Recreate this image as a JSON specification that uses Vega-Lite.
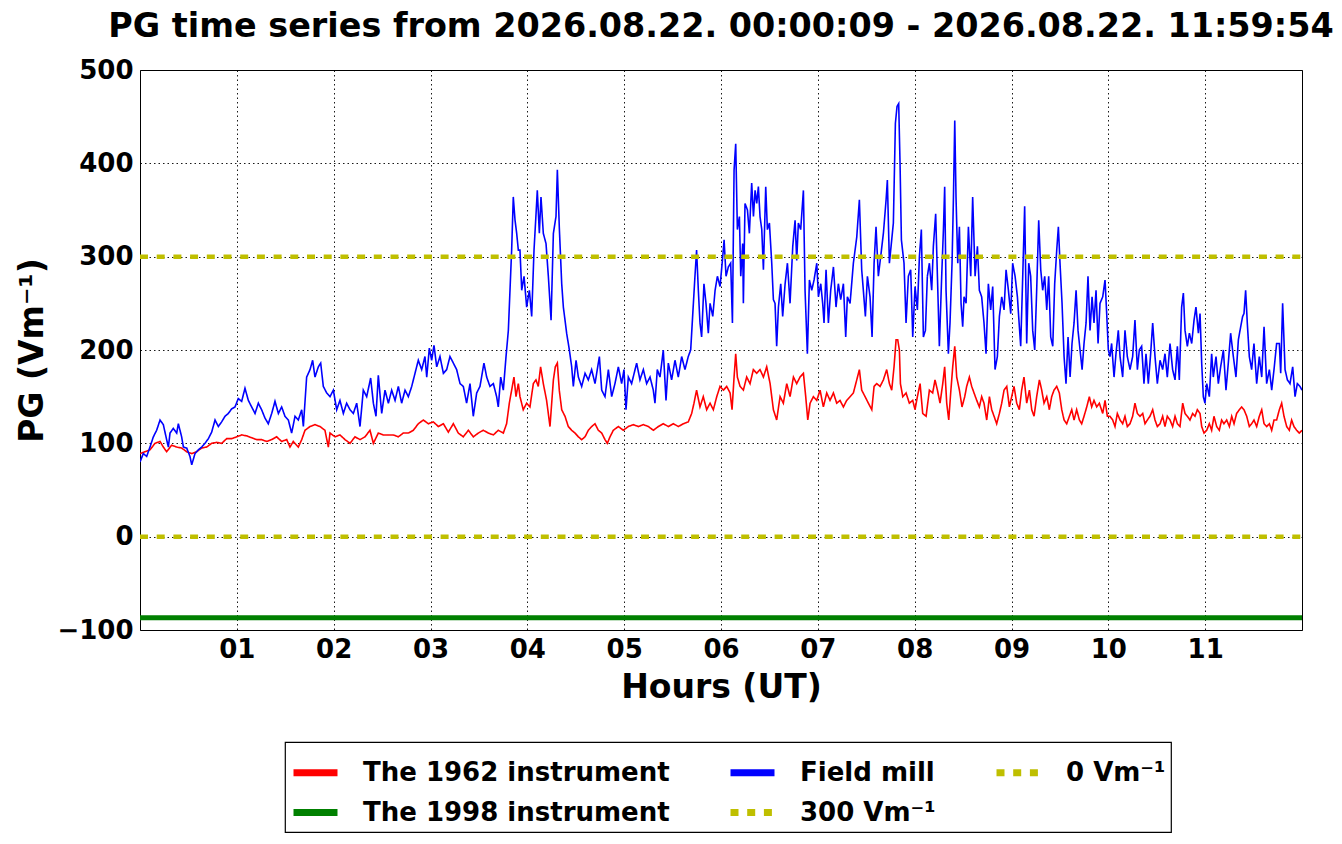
{
  "$schema": "https://vega.github.io/schema/vega-lite/v6.json",
  "width": 1162,
  "height": 560,
  "autosize": "none",
  "padding": {"left": 140, "top": 70, "right": 40, "bottom": 214},
  "background": "white",
  "title": {
    "text": "PG time series from 2026.08.22. 00:00:09 - 2026.08.22. 11:59:54",
    "fontSize": 33.4,
    "fontWeight": "bold",
    "color": "black",
    "anchor": "middle",
    "frame": "group",
    "baseline": "alphabetic",
    "offset": -13
  },
  "data": {
    "values": [
      {"series": "The 1962 instrument", "hour": 0.000, "pg": 89},
      {"series": "The 1962 instrument", "hour": 0.052, "pg": 91},
      {"series": "The 1962 instrument", "hour": 0.103, "pg": 93},
      {"series": "The 1962 instrument", "hour": 0.155, "pg": 100},
      {"series": "The 1962 instrument", "hour": 0.207, "pg": 102},
      {"series": "The 1962 instrument", "hour": 0.241, "pg": 96},
      {"series": "The 1962 instrument", "hour": 0.275, "pg": 91},
      {"series": "The 1962 instrument", "hour": 0.327, "pg": 98},
      {"series": "The 1962 instrument", "hour": 0.379, "pg": 96},
      {"series": "The 1962 instrument", "hour": 0.430, "pg": 95},
      {"series": "The 1962 instrument", "hour": 0.482, "pg": 91},
      {"series": "The 1962 instrument", "hour": 0.534, "pg": 89},
      {"series": "The 1962 instrument", "hour": 0.585, "pg": 91},
      {"series": "The 1962 instrument", "hour": 0.637, "pg": 95},
      {"series": "The 1962 instrument", "hour": 0.688, "pg": 96},
      {"series": "The 1962 instrument", "hour": 0.740, "pg": 100},
      {"series": "The 1962 instrument", "hour": 0.792, "pg": 101},
      {"series": "The 1962 instrument", "hour": 0.843, "pg": 100},
      {"series": "The 1962 instrument", "hour": 0.895, "pg": 105},
      {"series": "The 1962 instrument", "hour": 0.947, "pg": 105},
      {"series": "The 1962 instrument", "hour": 0.998, "pg": 107},
      {"series": "The 1962 instrument", "hour": 1.050, "pg": 109},
      {"series": "The 1962 instrument", "hour": 1.102, "pg": 108},
      {"series": "The 1962 instrument", "hour": 1.153, "pg": 106},
      {"series": "The 1962 instrument", "hour": 1.205, "pg": 104},
      {"series": "The 1962 instrument", "hour": 1.256, "pg": 104},
      {"series": "The 1962 instrument", "hour": 1.308, "pg": 102},
      {"series": "The 1962 instrument", "hour": 1.360, "pg": 104},
      {"series": "The 1962 instrument", "hour": 1.411, "pg": 107},
      {"series": "The 1962 instrument", "hour": 1.463, "pg": 102},
      {"series": "The 1962 instrument", "hour": 1.515, "pg": 104},
      {"series": "The 1962 instrument", "hour": 1.549, "pg": 96},
      {"series": "The 1962 instrument", "hour": 1.583, "pg": 102},
      {"series": "The 1962 instrument", "hour": 1.635, "pg": 96},
      {"series": "The 1962 instrument", "hour": 1.670, "pg": 104},
      {"series": "The 1962 instrument", "hour": 1.704, "pg": 114},
      {"series": "The 1962 instrument", "hour": 1.756, "pg": 118},
      {"series": "The 1962 instrument", "hour": 1.807, "pg": 120},
      {"series": "The 1962 instrument", "hour": 1.859, "pg": 118},
      {"series": "The 1962 instrument", "hour": 1.910, "pg": 114},
      {"series": "The 1962 instrument", "hour": 1.945, "pg": 96},
      {"series": "The 1962 instrument", "hour": 1.962, "pg": 111},
      {"series": "The 1962 instrument", "hour": 2.014, "pg": 107},
      {"series": "The 1962 instrument", "hour": 2.065, "pg": 109},
      {"series": "The 1962 instrument", "hour": 2.117, "pg": 104},
      {"series": "The 1962 instrument", "hour": 2.169, "pg": 100},
      {"series": "The 1962 instrument", "hour": 2.220, "pg": 107},
      {"series": "The 1962 instrument", "hour": 2.272, "pg": 104},
      {"series": "The 1962 instrument", "hour": 2.324, "pg": 107},
      {"series": "The 1962 instrument", "hour": 2.375, "pg": 114},
      {"series": "The 1962 instrument", "hour": 2.410, "pg": 100},
      {"series": "The 1962 instrument", "hour": 2.461, "pg": 111},
      {"series": "The 1962 instrument", "hour": 2.513, "pg": 109},
      {"series": "The 1962 instrument", "hour": 2.565, "pg": 109},
      {"series": "The 1962 instrument", "hour": 2.616, "pg": 109},
      {"series": "The 1962 instrument", "hour": 2.668, "pg": 107},
      {"series": "The 1962 instrument", "hour": 2.719, "pg": 111},
      {"series": "The 1962 instrument", "hour": 2.771, "pg": 111},
      {"series": "The 1962 instrument", "hour": 2.823, "pg": 114},
      {"series": "The 1962 instrument", "hour": 2.874, "pg": 121},
      {"series": "The 1962 instrument", "hour": 2.926, "pg": 125},
      {"series": "The 1962 instrument", "hour": 2.978, "pg": 121},
      {"series": "The 1962 instrument", "hour": 3.029, "pg": 123},
      {"series": "The 1962 instrument", "hour": 3.081, "pg": 118},
      {"series": "The 1962 instrument", "hour": 3.133, "pg": 121},
      {"series": "The 1962 instrument", "hour": 3.184, "pg": 112},
      {"series": "The 1962 instrument", "hour": 3.236, "pg": 121},
      {"series": "The 1962 instrument", "hour": 3.287, "pg": 111},
      {"series": "The 1962 instrument", "hour": 3.339, "pg": 107},
      {"series": "The 1962 instrument", "hour": 3.391, "pg": 114},
      {"series": "The 1962 instrument", "hour": 3.442, "pg": 107},
      {"series": "The 1962 instrument", "hour": 3.494, "pg": 111},
      {"series": "The 1962 instrument", "hour": 3.545, "pg": 114},
      {"series": "The 1962 instrument", "hour": 3.597, "pg": 111},
      {"series": "The 1962 instrument", "hour": 3.649, "pg": 109},
      {"series": "The 1962 instrument", "hour": 3.700, "pg": 114},
      {"series": "The 1962 instrument", "hour": 3.752, "pg": 111},
      {"series": "The 1962 instrument", "hour": 3.786, "pg": 121},
      {"series": "The 1962 instrument", "hour": 3.814, "pg": 143},
      {"series": "The 1962 instrument", "hour": 3.838, "pg": 157},
      {"series": "The 1962 instrument", "hour": 3.862, "pg": 171},
      {"series": "The 1962 instrument", "hour": 3.883, "pg": 150},
      {"series": "The 1962 instrument", "hour": 3.907, "pg": 164},
      {"series": "The 1962 instrument", "hour": 3.924, "pg": 150},
      {"series": "The 1962 instrument", "hour": 3.958, "pg": 136},
      {"series": "The 1962 instrument", "hour": 3.993, "pg": 143},
      {"series": "The 1962 instrument", "hour": 4.027, "pg": 139},
      {"series": "The 1962 instrument", "hour": 4.062, "pg": 164},
      {"series": "The 1962 instrument", "hour": 4.089, "pg": 168},
      {"series": "The 1962 instrument", "hour": 4.113, "pg": 161},
      {"series": "The 1962 instrument", "hour": 4.137, "pg": 182},
      {"series": "The 1962 instrument", "hour": 4.165, "pg": 164},
      {"series": "The 1962 instrument", "hour": 4.199, "pg": 146},
      {"series": "The 1962 instrument", "hour": 4.234, "pg": 118},
      {"series": "The 1962 instrument", "hour": 4.269, "pg": 168},
      {"series": "The 1962 instrument", "hour": 4.289, "pg": 182},
      {"series": "The 1962 instrument", "hour": 4.310, "pg": 186},
      {"series": "The 1962 instrument", "hour": 4.330, "pg": 157},
      {"series": "The 1962 instrument", "hour": 4.355, "pg": 136},
      {"series": "The 1962 instrument", "hour": 4.389, "pg": 129},
      {"series": "The 1962 instrument", "hour": 4.423, "pg": 118},
      {"series": "The 1962 instrument", "hour": 4.458, "pg": 114},
      {"series": "The 1962 instrument", "hour": 4.492, "pg": 111},
      {"series": "The 1962 instrument", "hour": 4.527, "pg": 107},
      {"series": "The 1962 instrument", "hour": 4.561, "pg": 104},
      {"series": "The 1962 instrument", "hour": 4.596, "pg": 107},
      {"series": "The 1962 instrument", "hour": 4.630, "pg": 114},
      {"series": "The 1962 instrument", "hour": 4.664, "pg": 118},
      {"series": "The 1962 instrument", "hour": 4.699, "pg": 121},
      {"series": "The 1962 instrument", "hour": 4.733, "pg": 114},
      {"series": "The 1962 instrument", "hour": 4.768, "pg": 111},
      {"series": "The 1962 instrument", "hour": 4.802, "pg": 104},
      {"series": "The 1962 instrument", "hour": 4.826, "pg": 100},
      {"series": "The 1962 instrument", "hour": 4.854, "pg": 107},
      {"series": "The 1962 instrument", "hour": 4.888, "pg": 114},
      {"series": "The 1962 instrument", "hour": 4.940, "pg": 118},
      {"series": "The 1962 instrument", "hour": 4.991, "pg": 114},
      {"series": "The 1962 instrument", "hour": 5.043, "pg": 118},
      {"series": "The 1962 instrument", "hour": 5.095, "pg": 120},
      {"series": "The 1962 instrument", "hour": 5.146, "pg": 118},
      {"series": "The 1962 instrument", "hour": 5.198, "pg": 120},
      {"series": "The 1962 instrument", "hour": 5.250, "pg": 118},
      {"series": "The 1962 instrument", "hour": 5.301, "pg": 114},
      {"series": "The 1962 instrument", "hour": 5.353, "pg": 118},
      {"series": "The 1962 instrument", "hour": 5.404, "pg": 121},
      {"series": "The 1962 instrument", "hour": 5.456, "pg": 118},
      {"series": "The 1962 instrument", "hour": 5.508, "pg": 121},
      {"series": "The 1962 instrument", "hour": 5.559, "pg": 118},
      {"series": "The 1962 instrument", "hour": 5.611, "pg": 121},
      {"series": "The 1962 instrument", "hour": 5.662, "pg": 123},
      {"series": "The 1962 instrument", "hour": 5.697, "pg": 132},
      {"series": "The 1962 instrument", "hour": 5.721, "pg": 143},
      {"series": "The 1962 instrument", "hour": 5.748, "pg": 157},
      {"series": "The 1962 instrument", "hour": 5.783, "pg": 139},
      {"series": "The 1962 instrument", "hour": 5.817, "pg": 150},
      {"series": "The 1962 instrument", "hour": 5.852, "pg": 136},
      {"series": "The 1962 instrument", "hour": 5.887, "pg": 143},
      {"series": "The 1962 instrument", "hour": 5.921, "pg": 136},
      {"series": "The 1962 instrument", "hour": 5.956, "pg": 150},
      {"series": "The 1962 instrument", "hour": 5.990, "pg": 161},
      {"series": "The 1962 instrument", "hour": 6.025, "pg": 157},
      {"series": "The 1962 instrument", "hour": 6.059, "pg": 161},
      {"series": "The 1962 instrument", "hour": 6.094, "pg": 154},
      {"series": "The 1962 instrument", "hour": 6.114, "pg": 136},
      {"series": "The 1962 instrument", "hour": 6.135, "pg": 171},
      {"series": "The 1962 instrument", "hour": 6.152, "pg": 196},
      {"series": "The 1962 instrument", "hour": 6.169, "pg": 171},
      {"series": "The 1962 instrument", "hour": 6.197, "pg": 161},
      {"series": "The 1962 instrument", "hour": 6.231, "pg": 157},
      {"series": "The 1962 instrument", "hour": 6.265, "pg": 171},
      {"series": "The 1962 instrument", "hour": 6.300, "pg": 164},
      {"series": "The 1962 instrument", "hour": 6.334, "pg": 179},
      {"series": "The 1962 instrument", "hour": 6.369, "pg": 175},
      {"series": "The 1962 instrument", "hour": 6.403, "pg": 179},
      {"series": "The 1962 instrument", "hour": 6.438, "pg": 171},
      {"series": "The 1962 instrument", "hour": 6.472, "pg": 182},
      {"series": "The 1962 instrument", "hour": 6.507, "pg": 164},
      {"series": "The 1962 instrument", "hour": 6.541, "pg": 136},
      {"series": "The 1962 instrument", "hour": 6.575, "pg": 125},
      {"series": "The 1962 instrument", "hour": 6.610, "pg": 150},
      {"series": "The 1962 instrument", "hour": 6.644, "pg": 143},
      {"series": "The 1962 instrument", "hour": 6.679, "pg": 164},
      {"series": "The 1962 instrument", "hour": 6.713, "pg": 150},
      {"series": "The 1962 instrument", "hour": 6.748, "pg": 171},
      {"series": "The 1962 instrument", "hour": 6.782, "pg": 164},
      {"series": "The 1962 instrument", "hour": 6.816, "pg": 171},
      {"series": "The 1962 instrument", "hour": 6.851, "pg": 175},
      {"series": "The 1962 instrument", "hour": 6.875, "pg": 150},
      {"series": "The 1962 instrument", "hour": 6.896, "pg": 125},
      {"series": "The 1962 instrument", "hour": 6.920, "pg": 143},
      {"series": "The 1962 instrument", "hour": 6.954, "pg": 150},
      {"series": "The 1962 instrument", "hour": 6.989, "pg": 146},
      {"series": "The 1962 instrument", "hour": 7.023, "pg": 157},
      {"series": "The 1962 instrument", "hour": 7.057, "pg": 139},
      {"series": "The 1962 instrument", "hour": 7.092, "pg": 154},
      {"series": "The 1962 instrument", "hour": 7.126, "pg": 146},
      {"series": "The 1962 instrument", "hour": 7.161, "pg": 154},
      {"series": "The 1962 instrument", "hour": 7.195, "pg": 143},
      {"series": "The 1962 instrument", "hour": 7.229, "pg": 146},
      {"series": "The 1962 instrument", "hour": 7.264, "pg": 139},
      {"series": "The 1962 instrument", "hour": 7.298, "pg": 146},
      {"series": "The 1962 instrument", "hour": 7.333, "pg": 150},
      {"series": "The 1962 instrument", "hour": 7.367, "pg": 154},
      {"series": "The 1962 instrument", "hour": 7.402, "pg": 168},
      {"series": "The 1962 instrument", "hour": 7.429, "pg": 179},
      {"series": "The 1962 instrument", "hour": 7.453, "pg": 157},
      {"series": "The 1962 instrument", "hour": 7.488, "pg": 150},
      {"series": "The 1962 instrument", "hour": 7.522, "pg": 143},
      {"series": "The 1962 instrument", "hour": 7.557, "pg": 136},
      {"series": "The 1962 instrument", "hour": 7.581, "pg": 161},
      {"series": "The 1962 instrument", "hour": 7.608, "pg": 164},
      {"series": "The 1962 instrument", "hour": 7.643, "pg": 161},
      {"series": "The 1962 instrument", "hour": 7.677, "pg": 168},
      {"series": "The 1962 instrument", "hour": 7.711, "pg": 179},
      {"series": "The 1962 instrument", "hour": 7.739, "pg": 164},
      {"series": "The 1962 instrument", "hour": 7.763, "pg": 157},
      {"series": "The 1962 instrument", "hour": 7.787, "pg": 182},
      {"series": "The 1962 instrument", "hour": 7.808, "pg": 211},
      {"series": "The 1962 instrument", "hour": 7.825, "pg": 211},
      {"series": "The 1962 instrument", "hour": 7.842, "pg": 200},
      {"series": "The 1962 instrument", "hour": 7.853, "pg": 164},
      {"series": "The 1962 instrument", "hour": 7.877, "pg": 150},
      {"series": "The 1962 instrument", "hour": 7.911, "pg": 154},
      {"series": "The 1962 instrument", "hour": 7.945, "pg": 143},
      {"series": "The 1962 instrument", "hour": 7.980, "pg": 146},
      {"series": "The 1962 instrument", "hour": 8.004, "pg": 136},
      {"series": "The 1962 instrument", "hour": 8.028, "pg": 150},
      {"series": "The 1962 instrument", "hour": 8.056, "pg": 164},
      {"series": "The 1962 instrument", "hour": 8.083, "pg": 132},
      {"series": "The 1962 instrument", "hour": 8.118, "pg": 129},
      {"series": "The 1962 instrument", "hour": 8.152, "pg": 157},
      {"series": "The 1962 instrument", "hour": 8.186, "pg": 154},
      {"series": "The 1962 instrument", "hour": 8.210, "pg": 168},
      {"series": "The 1962 instrument", "hour": 8.235, "pg": 157},
      {"series": "The 1962 instrument", "hour": 8.262, "pg": 143},
      {"series": "The 1962 instrument", "hour": 8.290, "pg": 164},
      {"series": "The 1962 instrument", "hour": 8.310, "pg": 182},
      {"series": "The 1962 instrument", "hour": 8.331, "pg": 143},
      {"series": "The 1962 instrument", "hour": 8.352, "pg": 125},
      {"series": "The 1962 instrument", "hour": 8.372, "pg": 154},
      {"series": "The 1962 instrument", "hour": 8.393, "pg": 182},
      {"series": "The 1962 instrument", "hour": 8.414, "pg": 204},
      {"series": "The 1962 instrument", "hour": 8.434, "pg": 171},
      {"series": "The 1962 instrument", "hour": 8.462, "pg": 157},
      {"series": "The 1962 instrument", "hour": 8.489, "pg": 139},
      {"series": "The 1962 instrument", "hour": 8.517, "pg": 150},
      {"series": "The 1962 instrument", "hour": 8.537, "pg": 161},
      {"series": "The 1962 instrument", "hour": 8.565, "pg": 171},
      {"series": "The 1962 instrument", "hour": 8.589, "pg": 161},
      {"series": "The 1962 instrument", "hour": 8.613, "pg": 154},
      {"series": "The 1962 instrument", "hour": 8.641, "pg": 146},
      {"series": "The 1962 instrument", "hour": 8.668, "pg": 139},
      {"series": "The 1962 instrument", "hour": 8.692, "pg": 150},
      {"series": "The 1962 instrument", "hour": 8.716, "pg": 143},
      {"series": "The 1962 instrument", "hour": 8.744, "pg": 125},
      {"series": "The 1962 instrument", "hour": 8.772, "pg": 150},
      {"series": "The 1962 instrument", "hour": 8.796, "pg": 136},
      {"series": "The 1962 instrument", "hour": 8.820, "pg": 129},
      {"series": "The 1962 instrument", "hour": 8.847, "pg": 121},
      {"series": "The 1962 instrument", "hour": 8.875, "pg": 132},
      {"series": "The 1962 instrument", "hour": 8.899, "pg": 143},
      {"series": "The 1962 instrument", "hour": 8.923, "pg": 157},
      {"series": "The 1962 instrument", "hour": 8.951, "pg": 161},
      {"series": "The 1962 instrument", "hour": 8.978, "pg": 139},
      {"series": "The 1962 instrument", "hour": 9.002, "pg": 150},
      {"series": "The 1962 instrument", "hour": 9.026, "pg": 161},
      {"series": "The 1962 instrument", "hour": 9.054, "pg": 143},
      {"series": "The 1962 instrument", "hour": 9.081, "pg": 136},
      {"series": "The 1962 instrument", "hour": 9.105, "pg": 157},
      {"series": "The 1962 instrument", "hour": 9.129, "pg": 171},
      {"series": "The 1962 instrument", "hour": 9.157, "pg": 143},
      {"series": "The 1962 instrument", "hour": 9.185, "pg": 157},
      {"series": "The 1962 instrument", "hour": 9.209, "pg": 136},
      {"series": "The 1962 instrument", "hour": 9.233, "pg": 129},
      {"series": "The 1962 instrument", "hour": 9.260, "pg": 150},
      {"series": "The 1962 instrument", "hour": 9.288, "pg": 168},
      {"series": "The 1962 instrument", "hour": 9.312, "pg": 157},
      {"series": "The 1962 instrument", "hour": 9.336, "pg": 143},
      {"series": "The 1962 instrument", "hour": 9.364, "pg": 150},
      {"series": "The 1962 instrument", "hour": 9.391, "pg": 136},
      {"series": "The 1962 instrument", "hour": 9.415, "pg": 150},
      {"series": "The 1962 instrument", "hour": 9.439, "pg": 157},
      {"series": "The 1962 instrument", "hour": 9.467, "pg": 161},
      {"series": "The 1962 instrument", "hour": 9.494, "pg": 154},
      {"series": "The 1962 instrument", "hour": 9.519, "pg": 136},
      {"series": "The 1962 instrument", "hour": 9.543, "pg": 125},
      {"series": "The 1962 instrument", "hour": 9.570, "pg": 121},
      {"series": "The 1962 instrument", "hour": 9.598, "pg": 129},
      {"series": "The 1962 instrument", "hour": 9.622, "pg": 136},
      {"series": "The 1962 instrument", "hour": 9.646, "pg": 125},
      {"series": "The 1962 instrument", "hour": 9.673, "pg": 136},
      {"series": "The 1962 instrument", "hour": 9.701, "pg": 125},
      {"series": "The 1962 instrument", "hour": 9.725, "pg": 121},
      {"series": "The 1962 instrument", "hour": 9.749, "pg": 129},
      {"series": "The 1962 instrument", "hour": 9.777, "pg": 139},
      {"series": "The 1962 instrument", "hour": 9.804, "pg": 150},
      {"series": "The 1962 instrument", "hour": 9.828, "pg": 139},
      {"series": "The 1962 instrument", "hour": 9.852, "pg": 146},
      {"series": "The 1962 instrument", "hour": 9.880, "pg": 139},
      {"series": "The 1962 instrument", "hour": 9.907, "pg": 143},
      {"series": "The 1962 instrument", "hour": 9.942, "pg": 132},
      {"series": "The 1962 instrument", "hour": 9.966, "pg": 146},
      {"series": "The 1962 instrument", "hour": 9.990, "pg": 129},
      {"series": "The 1962 instrument", "hour": 10.017, "pg": 129},
      {"series": "The 1962 instrument", "hour": 10.045, "pg": 125},
      {"series": "The 1962 instrument", "hour": 10.069, "pg": 118},
      {"series": "The 1962 instrument", "hour": 10.093, "pg": 132},
      {"series": "The 1962 instrument", "hour": 10.121, "pg": 125},
      {"series": "The 1962 instrument", "hour": 10.148, "pg": 121},
      {"series": "The 1962 instrument", "hour": 10.172, "pg": 129},
      {"series": "The 1962 instrument", "hour": 10.196, "pg": 118},
      {"series": "The 1962 instrument", "hour": 10.224, "pg": 121},
      {"series": "The 1962 instrument", "hour": 10.251, "pg": 129},
      {"series": "The 1962 instrument", "hour": 10.275, "pg": 143},
      {"series": "The 1962 instrument", "hour": 10.300, "pg": 132},
      {"series": "The 1962 instrument", "hour": 10.327, "pg": 129},
      {"series": "The 1962 instrument", "hour": 10.355, "pg": 132},
      {"series": "The 1962 instrument", "hour": 10.379, "pg": 121},
      {"series": "The 1962 instrument", "hour": 10.403, "pg": 125},
      {"series": "The 1962 instrument", "hour": 10.430, "pg": 129},
      {"series": "The 1962 instrument", "hour": 10.458, "pg": 136},
      {"series": "The 1962 instrument", "hour": 10.482, "pg": 125},
      {"series": "The 1962 instrument", "hour": 10.506, "pg": 118},
      {"series": "The 1962 instrument", "hour": 10.534, "pg": 121},
      {"series": "The 1962 instrument", "hour": 10.561, "pg": 129},
      {"series": "The 1962 instrument", "hour": 10.585, "pg": 118},
      {"series": "The 1962 instrument", "hour": 10.609, "pg": 129},
      {"series": "The 1962 instrument", "hour": 10.637, "pg": 125},
      {"series": "The 1962 instrument", "hour": 10.664, "pg": 118},
      {"series": "The 1962 instrument", "hour": 10.689, "pg": 129},
      {"series": "The 1962 instrument", "hour": 10.713, "pg": 121},
      {"series": "The 1962 instrument", "hour": 10.740, "pg": 118},
      {"series": "The 1962 instrument", "hour": 10.768, "pg": 143},
      {"series": "The 1962 instrument", "hour": 10.792, "pg": 132},
      {"series": "The 1962 instrument", "hour": 10.816, "pg": 129},
      {"series": "The 1962 instrument", "hour": 10.843, "pg": 125},
      {"series": "The 1962 instrument", "hour": 10.871, "pg": 132},
      {"series": "The 1962 instrument", "hour": 10.895, "pg": 129},
      {"series": "The 1962 instrument", "hour": 10.919, "pg": 136},
      {"series": "The 1962 instrument", "hour": 10.947, "pg": 132},
      {"series": "The 1962 instrument", "hour": 10.964, "pg": 118},
      {"series": "The 1962 instrument", "hour": 10.988, "pg": 111},
      {"series": "The 1962 instrument", "hour": 11.016, "pg": 114},
      {"series": "The 1962 instrument", "hour": 11.043, "pg": 121},
      {"series": "The 1962 instrument", "hour": 11.067, "pg": 114},
      {"series": "The 1962 instrument", "hour": 11.091, "pg": 129},
      {"series": "The 1962 instrument", "hour": 11.119, "pg": 118},
      {"series": "The 1962 instrument", "hour": 11.146, "pg": 114},
      {"series": "The 1962 instrument", "hour": 11.170, "pg": 125},
      {"series": "The 1962 instrument", "hour": 11.194, "pg": 121},
      {"series": "The 1962 instrument", "hour": 11.222, "pg": 125},
      {"series": "The 1962 instrument", "hour": 11.250, "pg": 118},
      {"series": "The 1962 instrument", "hour": 11.274, "pg": 129},
      {"series": "The 1962 instrument", "hour": 11.298, "pg": 121},
      {"series": "The 1962 instrument", "hour": 11.325, "pg": 132},
      {"series": "The 1962 instrument", "hour": 11.353, "pg": 136},
      {"series": "The 1962 instrument", "hour": 11.377, "pg": 139},
      {"series": "The 1962 instrument", "hour": 11.401, "pg": 136},
      {"series": "The 1962 instrument", "hour": 11.429, "pg": 129},
      {"series": "The 1962 instrument", "hour": 11.456, "pg": 118},
      {"series": "The 1962 instrument", "hour": 11.480, "pg": 121},
      {"series": "The 1962 instrument", "hour": 11.504, "pg": 125},
      {"series": "The 1962 instrument", "hour": 11.532, "pg": 118},
      {"series": "The 1962 instrument", "hour": 11.559, "pg": 129},
      {"series": "The 1962 instrument", "hour": 11.584, "pg": 136},
      {"series": "The 1962 instrument", "hour": 11.608, "pg": 121},
      {"series": "The 1962 instrument", "hour": 11.635, "pg": 118},
      {"series": "The 1962 instrument", "hour": 11.663, "pg": 121},
      {"series": "The 1962 instrument", "hour": 11.687, "pg": 114},
      {"series": "The 1962 instrument", "hour": 11.711, "pg": 125},
      {"series": "The 1962 instrument", "hour": 11.738, "pg": 125},
      {"series": "The 1962 instrument", "hour": 11.766, "pg": 136},
      {"series": "The 1962 instrument", "hour": 11.790, "pg": 143},
      {"series": "The 1962 instrument", "hour": 11.814, "pg": 129},
      {"series": "The 1962 instrument", "hour": 11.842, "pg": 118},
      {"series": "The 1962 instrument", "hour": 11.869, "pg": 114},
      {"series": "The 1962 instrument", "hour": 11.893, "pg": 125},
      {"series": "The 1962 instrument", "hour": 11.917, "pg": 118},
      {"series": "The 1962 instrument", "hour": 11.945, "pg": 114},
      {"series": "The 1962 instrument", "hour": 11.972, "pg": 111},
      {"series": "The 1962 instrument", "hour": 12.000, "pg": 114},

      {"series": "The 1998 instrument", "hour": 0, "pg": -87},
      {"series": "The 1998 instrument", "hour": 12, "pg": -87},

      {"series": "Field mill", "hour": 0.000, "pg": 80},
      {"series": "Field mill", "hour": 0.034, "pg": 89},
      {"series": "Field mill", "hour": 0.069, "pg": 86},
      {"series": "Field mill", "hour": 0.103, "pg": 96},
      {"series": "Field mill", "hour": 0.138, "pg": 107},
      {"series": "Field mill", "hour": 0.172, "pg": 114},
      {"series": "Field mill", "hour": 0.207, "pg": 125},
      {"series": "Field mill", "hour": 0.241, "pg": 120},
      {"series": "Field mill", "hour": 0.275, "pg": 104},
      {"series": "Field mill", "hour": 0.293, "pg": 96},
      {"series": "Field mill", "hour": 0.310, "pg": 111},
      {"series": "Field mill", "hour": 0.344, "pg": 116},
      {"series": "Field mill", "hour": 0.379, "pg": 111},
      {"series": "Field mill", "hour": 0.396, "pg": 121},
      {"series": "Field mill", "hour": 0.430, "pg": 107},
      {"series": "Field mill", "hour": 0.448, "pg": 96},
      {"series": "Field mill", "hour": 0.482, "pg": 95},
      {"series": "Field mill", "hour": 0.516, "pg": 86},
      {"series": "Field mill", "hour": 0.534, "pg": 77},
      {"series": "Field mill", "hour": 0.568, "pg": 89},
      {"series": "Field mill", "hour": 0.602, "pg": 93},
      {"series": "Field mill", "hour": 0.637, "pg": 96},
      {"series": "Field mill", "hour": 0.671, "pg": 100},
      {"series": "Field mill", "hour": 0.706, "pg": 105},
      {"series": "Field mill", "hour": 0.740, "pg": 112},
      {"series": "Field mill", "hour": 0.775, "pg": 125},
      {"series": "Field mill", "hour": 0.809, "pg": 118},
      {"series": "Field mill", "hour": 0.843, "pg": 123},
      {"series": "Field mill", "hour": 0.878, "pg": 129},
      {"series": "Field mill", "hour": 0.912, "pg": 132},
      {"series": "Field mill", "hour": 0.947, "pg": 137},
      {"series": "Field mill", "hour": 0.981, "pg": 139},
      {"series": "Field mill", "hour": 1.015, "pg": 148},
      {"series": "Field mill", "hour": 1.050, "pg": 145},
      {"series": "Field mill", "hour": 1.084, "pg": 159},
      {"series": "Field mill", "hour": 1.119, "pg": 146},
      {"series": "Field mill", "hour": 1.153, "pg": 139},
      {"series": "Field mill", "hour": 1.188, "pg": 132},
      {"series": "Field mill", "hour": 1.222, "pg": 143},
      {"series": "Field mill", "hour": 1.256, "pg": 136},
      {"series": "Field mill", "hour": 1.291, "pg": 127},
      {"series": "Field mill", "hour": 1.325, "pg": 121},
      {"series": "Field mill", "hour": 1.360, "pg": 132},
      {"series": "Field mill", "hour": 1.394, "pg": 145},
      {"series": "Field mill", "hour": 1.429, "pg": 132},
      {"series": "Field mill", "hour": 1.463, "pg": 139},
      {"series": "Field mill", "hour": 1.497, "pg": 129},
      {"series": "Field mill", "hour": 1.532, "pg": 125},
      {"series": "Field mill", "hour": 1.566, "pg": 111},
      {"series": "Field mill", "hour": 1.601, "pg": 129},
      {"series": "Field mill", "hour": 1.635, "pg": 125},
      {"series": "Field mill", "hour": 1.670, "pg": 136},
      {"series": "Field mill", "hour": 1.687, "pg": 118},
      {"series": "Field mill", "hour": 1.721, "pg": 171},
      {"series": "Field mill", "hour": 1.756, "pg": 179},
      {"series": "Field mill", "hour": 1.783, "pg": 189},
      {"series": "Field mill", "hour": 1.807, "pg": 171},
      {"series": "Field mill", "hour": 1.842, "pg": 182},
      {"series": "Field mill", "hour": 1.866, "pg": 186},
      {"series": "Field mill", "hour": 1.893, "pg": 161},
      {"series": "Field mill", "hour": 1.928, "pg": 154},
      {"series": "Field mill", "hour": 1.962, "pg": 150},
      {"series": "Field mill", "hour": 1.997, "pg": 157},
      {"series": "Field mill", "hour": 2.031, "pg": 136},
      {"series": "Field mill", "hour": 2.065, "pg": 146},
      {"series": "Field mill", "hour": 2.100, "pg": 132},
      {"series": "Field mill", "hour": 2.134, "pg": 143},
      {"series": "Field mill", "hour": 2.169, "pg": 136},
      {"series": "Field mill", "hour": 2.203, "pg": 132},
      {"series": "Field mill", "hour": 2.238, "pg": 143},
      {"series": "Field mill", "hour": 2.272, "pg": 118},
      {"series": "Field mill", "hour": 2.306, "pg": 157},
      {"series": "Field mill", "hour": 2.341, "pg": 150},
      {"series": "Field mill", "hour": 2.382, "pg": 170},
      {"series": "Field mill", "hour": 2.410, "pg": 143},
      {"series": "Field mill", "hour": 2.437, "pg": 129},
      {"series": "Field mill", "hour": 2.461, "pg": 173},
      {"series": "Field mill", "hour": 2.496, "pg": 132},
      {"series": "Field mill", "hour": 2.530, "pg": 157},
      {"series": "Field mill", "hour": 2.565, "pg": 143},
      {"series": "Field mill", "hour": 2.599, "pg": 157},
      {"series": "Field mill", "hour": 2.634, "pg": 146},
      {"series": "Field mill", "hour": 2.668, "pg": 161},
      {"series": "Field mill", "hour": 2.702, "pg": 143},
      {"series": "Field mill", "hour": 2.737, "pg": 157},
      {"series": "Field mill", "hour": 2.771, "pg": 150},
      {"series": "Field mill", "hour": 2.806, "pg": 161},
      {"series": "Field mill", "hour": 2.840, "pg": 175},
      {"series": "Field mill", "hour": 2.874, "pg": 189},
      {"series": "Field mill", "hour": 2.909, "pg": 179},
      {"series": "Field mill", "hour": 2.943, "pg": 193},
      {"series": "Field mill", "hour": 2.961, "pg": 171},
      {"series": "Field mill", "hour": 2.988, "pg": 202},
      {"series": "Field mill", "hour": 3.012, "pg": 189},
      {"series": "Field mill", "hour": 3.036, "pg": 205},
      {"series": "Field mill", "hour": 3.064, "pg": 182},
      {"series": "Field mill", "hour": 3.098, "pg": 193},
      {"series": "Field mill", "hour": 3.133, "pg": 175},
      {"series": "Field mill", "hour": 3.167, "pg": 179},
      {"series": "Field mill", "hour": 3.201, "pg": 193},
      {"series": "Field mill", "hour": 3.236, "pg": 186},
      {"series": "Field mill", "hour": 3.270, "pg": 179},
      {"series": "Field mill", "hour": 3.305, "pg": 164},
      {"series": "Field mill", "hour": 3.339, "pg": 161},
      {"series": "Field mill", "hour": 3.373, "pg": 143},
      {"series": "Field mill", "hour": 3.408, "pg": 164},
      {"series": "Field mill", "hour": 3.442, "pg": 129},
      {"series": "Field mill", "hour": 3.477, "pg": 154},
      {"series": "Field mill", "hour": 3.511, "pg": 161},
      {"series": "Field mill", "hour": 3.552, "pg": 186},
      {"series": "Field mill", "hour": 3.580, "pg": 171},
      {"series": "Field mill", "hour": 3.614, "pg": 161},
      {"series": "Field mill", "hour": 3.649, "pg": 164},
      {"series": "Field mill", "hour": 3.683, "pg": 150},
      {"series": "Field mill", "hour": 3.700, "pg": 139},
      {"series": "Field mill", "hour": 3.725, "pg": 171},
      {"series": "Field mill", "hour": 3.752, "pg": 157},
      {"series": "Field mill", "hour": 3.780, "pg": 193},
      {"series": "Field mill", "hour": 3.804, "pg": 221},
      {"series": "Field mill", "hour": 3.821, "pg": 264},
      {"series": "Field mill", "hour": 3.838, "pg": 307},
      {"series": "Field mill", "hour": 3.855, "pg": 364},
      {"series": "Field mill", "hour": 3.873, "pg": 339},
      {"series": "Field mill", "hour": 3.890, "pg": 325},
      {"series": "Field mill", "hour": 3.907, "pg": 307},
      {"series": "Field mill", "hour": 3.924, "pg": 307},
      {"series": "Field mill", "hour": 3.942, "pg": 264},
      {"series": "Field mill", "hour": 3.966, "pg": 279},
      {"series": "Field mill", "hour": 3.993, "pg": 246},
      {"series": "Field mill", "hour": 4.021, "pg": 264},
      {"series": "Field mill", "hour": 4.045, "pg": 236},
      {"series": "Field mill", "hour": 4.069, "pg": 307},
      {"series": "Field mill", "hour": 4.090, "pg": 346},
      {"series": "Field mill", "hour": 4.103, "pg": 371},
      {"series": "Field mill", "hour": 4.124, "pg": 325},
      {"series": "Field mill", "hour": 4.141, "pg": 364},
      {"series": "Field mill", "hour": 4.165, "pg": 325},
      {"series": "Field mill", "hour": 4.193, "pg": 314},
      {"series": "Field mill", "hour": 4.217, "pg": 279},
      {"series": "Field mill", "hour": 4.245, "pg": 232},
      {"series": "Field mill", "hour": 4.269, "pg": 325},
      {"series": "Field mill", "hour": 4.296, "pg": 343},
      {"series": "Field mill", "hour": 4.310, "pg": 393},
      {"series": "Field mill", "hour": 4.330, "pg": 332},
      {"series": "Field mill", "hour": 4.355, "pg": 271},
      {"series": "Field mill", "hour": 4.372, "pg": 246},
      {"series": "Field mill", "hour": 4.406, "pg": 218},
      {"series": "Field mill", "hour": 4.434, "pg": 200},
      {"series": "Field mill", "hour": 4.458, "pg": 182},
      {"series": "Field mill", "hour": 4.475, "pg": 161},
      {"series": "Field mill", "hour": 4.503, "pg": 189},
      {"series": "Field mill", "hour": 4.527, "pg": 171},
      {"series": "Field mill", "hour": 4.561, "pg": 161},
      {"series": "Field mill", "hour": 4.596, "pg": 175},
      {"series": "Field mill", "hour": 4.630, "pg": 168},
      {"series": "Field mill", "hour": 4.664, "pg": 179},
      {"series": "Field mill", "hour": 4.699, "pg": 164},
      {"series": "Field mill", "hour": 4.744, "pg": 193},
      {"series": "Field mill", "hour": 4.768, "pg": 157},
      {"series": "Field mill", "hour": 4.802, "pg": 150},
      {"series": "Field mill", "hour": 4.837, "pg": 179},
      {"series": "Field mill", "hour": 4.871, "pg": 150},
      {"series": "Field mill", "hour": 4.905, "pg": 164},
      {"series": "Field mill", "hour": 4.940, "pg": 182},
      {"series": "Field mill", "hour": 4.974, "pg": 164},
      {"series": "Field mill", "hour": 4.998, "pg": 179},
      {"series": "Field mill", "hour": 5.019, "pg": 136},
      {"series": "Field mill", "hour": 5.043, "pg": 171},
      {"series": "Field mill", "hour": 5.077, "pg": 164},
      {"series": "Field mill", "hour": 5.129, "pg": 186},
      {"series": "Field mill", "hour": 5.163, "pg": 168},
      {"series": "Field mill", "hour": 5.198, "pg": 179},
      {"series": "Field mill", "hour": 5.232, "pg": 164},
      {"series": "Field mill", "hour": 5.267, "pg": 171},
      {"series": "Field mill", "hour": 5.301, "pg": 157},
      {"series": "Field mill", "hour": 5.318, "pg": 143},
      {"series": "Field mill", "hour": 5.342, "pg": 179},
      {"series": "Field mill", "hour": 5.370, "pg": 171},
      {"series": "Field mill", "hour": 5.404, "pg": 200},
      {"series": "Field mill", "hour": 5.432, "pg": 146},
      {"series": "Field mill", "hour": 5.456, "pg": 186},
      {"series": "Field mill", "hour": 5.490, "pg": 168},
      {"series": "Field mill", "hour": 5.525, "pg": 189},
      {"series": "Field mill", "hour": 5.559, "pg": 171},
      {"series": "Field mill", "hour": 5.594, "pg": 193},
      {"series": "Field mill", "hour": 5.628, "pg": 179},
      {"series": "Field mill", "hour": 5.662, "pg": 193},
      {"series": "Field mill", "hour": 5.687, "pg": 200},
      {"series": "Field mill", "hour": 5.707, "pg": 236},
      {"series": "Field mill", "hour": 5.731, "pg": 279},
      {"series": "Field mill", "hour": 5.748, "pg": 307},
      {"series": "Field mill", "hour": 5.766, "pg": 264},
      {"series": "Field mill", "hour": 5.783, "pg": 229},
      {"series": "Field mill", "hour": 5.800, "pg": 214},
      {"series": "Field mill", "hour": 5.824, "pg": 271},
      {"series": "Field mill", "hour": 5.845, "pg": 250},
      {"series": "Field mill", "hour": 5.869, "pg": 218},
      {"series": "Field mill", "hour": 5.887, "pg": 250},
      {"series": "Field mill", "hour": 5.915, "pg": 236},
      {"series": "Field mill", "hour": 5.939, "pg": 264},
      {"series": "Field mill", "hour": 5.963, "pg": 279},
      {"series": "Field mill", "hour": 5.990, "pg": 268},
      {"series": "Field mill", "hour": 6.018, "pg": 300},
      {"series": "Field mill", "hour": 6.032, "pg": 318},
      {"series": "Field mill", "hour": 6.052, "pg": 279},
      {"series": "Field mill", "hour": 6.076, "pg": 289},
      {"series": "Field mill", "hour": 6.100, "pg": 293},
      {"series": "Field mill", "hour": 6.118, "pg": 229},
      {"series": "Field mill", "hour": 6.135, "pg": 393},
      {"series": "Field mill", "hour": 6.152, "pg": 421},
      {"series": "Field mill", "hour": 6.169, "pg": 329},
      {"series": "Field mill", "hour": 6.190, "pg": 343},
      {"series": "Field mill", "hour": 6.204, "pg": 279},
      {"series": "Field mill", "hour": 6.224, "pg": 314},
      {"series": "Field mill", "hour": 6.231, "pg": 250},
      {"series": "Field mill", "hour": 6.248, "pg": 357},
      {"series": "Field mill", "hour": 6.273, "pg": 350},
      {"series": "Field mill", "hour": 6.293, "pg": 325},
      {"series": "Field mill", "hour": 6.317, "pg": 379},
      {"series": "Field mill", "hour": 6.335, "pg": 343},
      {"series": "Field mill", "hour": 6.352, "pg": 371},
      {"series": "Field mill", "hour": 6.369, "pg": 357},
      {"series": "Field mill", "hour": 6.386, "pg": 375},
      {"series": "Field mill", "hour": 6.403, "pg": 343},
      {"series": "Field mill", "hour": 6.421, "pg": 329},
      {"series": "Field mill", "hour": 6.438, "pg": 286},
      {"series": "Field mill", "hour": 6.462, "pg": 375},
      {"series": "Field mill", "hour": 6.479, "pg": 329},
      {"series": "Field mill", "hour": 6.500, "pg": 336},
      {"series": "Field mill", "hour": 6.524, "pg": 293},
      {"series": "Field mill", "hour": 6.541, "pg": 254},
      {"series": "Field mill", "hour": 6.558, "pg": 250},
      {"series": "Field mill", "hour": 6.575, "pg": 204},
      {"series": "Field mill", "hour": 6.593, "pg": 246},
      {"series": "Field mill", "hour": 6.617, "pg": 271},
      {"series": "Field mill", "hour": 6.637, "pg": 236},
      {"series": "Field mill", "hour": 6.662, "pg": 271},
      {"series": "Field mill", "hour": 6.686, "pg": 293},
      {"series": "Field mill", "hour": 6.713, "pg": 250},
      {"series": "Field mill", "hour": 6.741, "pg": 311},
      {"series": "Field mill", "hour": 6.765, "pg": 339},
      {"series": "Field mill", "hour": 6.782, "pg": 296},
      {"series": "Field mill", "hour": 6.799, "pg": 336},
      {"series": "Field mill", "hour": 6.823, "pg": 329},
      {"series": "Field mill", "hour": 6.851, "pg": 371},
      {"series": "Field mill", "hour": 6.868, "pg": 264},
      {"series": "Field mill", "hour": 6.892, "pg": 196},
      {"series": "Field mill", "hour": 6.913, "pg": 275},
      {"series": "Field mill", "hour": 6.937, "pg": 264},
      {"series": "Field mill", "hour": 6.961, "pg": 275},
      {"series": "Field mill", "hour": 6.989, "pg": 293},
      {"series": "Field mill", "hour": 7.006, "pg": 257},
      {"series": "Field mill", "hour": 7.030, "pg": 271},
      {"series": "Field mill", "hour": 7.050, "pg": 250},
      {"series": "Field mill", "hour": 7.064, "pg": 229},
      {"series": "Field mill", "hour": 7.085, "pg": 286},
      {"series": "Field mill", "hour": 7.109, "pg": 229},
      {"series": "Field mill", "hour": 7.133, "pg": 264},
      {"series": "Field mill", "hour": 7.161, "pg": 289},
      {"series": "Field mill", "hour": 7.188, "pg": 246},
      {"series": "Field mill", "hour": 7.212, "pg": 271},
      {"series": "Field mill", "hour": 7.236, "pg": 254},
      {"series": "Field mill", "hour": 7.264, "pg": 271},
      {"series": "Field mill", "hour": 7.288, "pg": 214},
      {"series": "Field mill", "hour": 7.305, "pg": 257},
      {"series": "Field mill", "hour": 7.333, "pg": 250},
      {"series": "Field mill", "hour": 7.367, "pg": 293},
      {"series": "Field mill", "hour": 7.402, "pg": 321},
      {"series": "Field mill", "hour": 7.429, "pg": 361},
      {"series": "Field mill", "hour": 7.453, "pg": 286},
      {"series": "Field mill", "hour": 7.470, "pg": 264},
      {"series": "Field mill", "hour": 7.491, "pg": 236},
      {"series": "Field mill", "hour": 7.512, "pg": 279},
      {"series": "Field mill", "hour": 7.539, "pg": 257},
      {"series": "Field mill", "hour": 7.560, "pg": 214},
      {"series": "Field mill", "hour": 7.581, "pg": 293},
      {"series": "Field mill", "hour": 7.601, "pg": 332},
      {"series": "Field mill", "hour": 7.625, "pg": 279},
      {"series": "Field mill", "hour": 7.649, "pg": 300},
      {"series": "Field mill", "hour": 7.677, "pg": 325},
      {"series": "Field mill", "hour": 7.705, "pg": 361},
      {"series": "Field mill", "hour": 7.718, "pg": 382},
      {"series": "Field mill", "hour": 7.739, "pg": 293},
      {"series": "Field mill", "hour": 7.763, "pg": 318},
      {"series": "Field mill", "hour": 7.780, "pg": 336},
      {"series": "Field mill", "hour": 7.801, "pg": 443},
      {"series": "Field mill", "hour": 7.818, "pg": 461},
      {"series": "Field mill", "hour": 7.835, "pg": 464},
      {"series": "Field mill", "hour": 7.849, "pg": 400},
      {"series": "Field mill", "hour": 7.863, "pg": 318},
      {"series": "Field mill", "hour": 7.890, "pg": 293},
      {"series": "Field mill", "hour": 7.911, "pg": 229},
      {"series": "Field mill", "hour": 7.935, "pg": 279},
      {"series": "Field mill", "hour": 7.959, "pg": 286},
      {"series": "Field mill", "hour": 7.980, "pg": 214},
      {"series": "Field mill", "hour": 8.004, "pg": 268},
      {"series": "Field mill", "hour": 8.028, "pg": 243},
      {"series": "Field mill", "hour": 8.049, "pg": 300},
      {"series": "Field mill", "hour": 8.069, "pg": 329},
      {"series": "Field mill", "hour": 8.090, "pg": 214},
      {"series": "Field mill", "hour": 8.111, "pg": 221},
      {"series": "Field mill", "hour": 8.131, "pg": 279},
      {"series": "Field mill", "hour": 8.152, "pg": 293},
      {"series": "Field mill", "hour": 8.176, "pg": 264},
      {"series": "Field mill", "hour": 8.193, "pg": 311},
      {"series": "Field mill", "hour": 8.217, "pg": 346},
      {"series": "Field mill", "hour": 8.235, "pg": 279},
      {"series": "Field mill", "hour": 8.255, "pg": 204},
      {"series": "Field mill", "hour": 8.279, "pg": 279},
      {"series": "Field mill", "hour": 8.297, "pg": 329},
      {"series": "Field mill", "hour": 8.310, "pg": 375},
      {"series": "Field mill", "hour": 8.324, "pg": 264},
      {"series": "Field mill", "hour": 8.348, "pg": 196},
      {"series": "Field mill", "hour": 8.365, "pg": 229},
      {"series": "Field mill", "hour": 8.386, "pg": 293},
      {"series": "Field mill", "hour": 8.400, "pg": 361},
      {"series": "Field mill", "hour": 8.414, "pg": 446},
      {"series": "Field mill", "hour": 8.427, "pg": 364},
      {"series": "Field mill", "hour": 8.445, "pg": 293},
      {"series": "Field mill", "hour": 8.462, "pg": 332},
      {"series": "Field mill", "hour": 8.479, "pg": 250},
      {"series": "Field mill", "hour": 8.496, "pg": 225},
      {"series": "Field mill", "hour": 8.510, "pg": 257},
      {"series": "Field mill", "hour": 8.531, "pg": 250},
      {"series": "Field mill", "hour": 8.555, "pg": 332},
      {"series": "Field mill", "hour": 8.579, "pg": 279},
      {"series": "Field mill", "hour": 8.599, "pg": 364},
      {"series": "Field mill", "hour": 8.624, "pg": 279},
      {"series": "Field mill", "hour": 8.648, "pg": 311},
      {"series": "Field mill", "hour": 8.668, "pg": 264},
      {"series": "Field mill", "hour": 8.692, "pg": 257},
      {"series": "Field mill", "hour": 8.716, "pg": 229},
      {"series": "Field mill", "hour": 8.737, "pg": 196},
      {"series": "Field mill", "hour": 8.761, "pg": 271},
      {"series": "Field mill", "hour": 8.785, "pg": 243},
      {"series": "Field mill", "hour": 8.806, "pg": 268},
      {"series": "Field mill", "hour": 8.830, "pg": 179},
      {"series": "Field mill", "hour": 8.854, "pg": 193},
      {"series": "Field mill", "hour": 8.875, "pg": 236},
      {"series": "Field mill", "hour": 8.899, "pg": 257},
      {"series": "Field mill", "hour": 8.923, "pg": 243},
      {"series": "Field mill", "hour": 8.944, "pg": 286},
      {"series": "Field mill", "hour": 8.968, "pg": 264},
      {"series": "Field mill", "hour": 8.992, "pg": 239},
      {"series": "Field mill", "hour": 9.012, "pg": 293},
      {"series": "Field mill", "hour": 9.037, "pg": 279},
      {"series": "Field mill", "hour": 9.061, "pg": 257},
      {"series": "Field mill", "hour": 9.074, "pg": 236},
      {"series": "Field mill", "hour": 9.095, "pg": 204},
      {"series": "Field mill", "hour": 9.116, "pg": 279},
      {"series": "Field mill", "hour": 9.136, "pg": 354},
      {"series": "Field mill", "hour": 9.157, "pg": 207},
      {"series": "Field mill", "hour": 9.178, "pg": 293},
      {"series": "Field mill", "hour": 9.198, "pg": 279},
      {"series": "Field mill", "hour": 9.219, "pg": 221},
      {"series": "Field mill", "hour": 9.240, "pg": 200},
      {"series": "Field mill", "hour": 9.260, "pg": 264},
      {"series": "Field mill", "hour": 9.281, "pg": 339},
      {"series": "Field mill", "hour": 9.302, "pg": 286},
      {"series": "Field mill", "hour": 9.322, "pg": 264},
      {"series": "Field mill", "hour": 9.343, "pg": 279},
      {"series": "Field mill", "hour": 9.364, "pg": 243},
      {"series": "Field mill", "hour": 9.384, "pg": 279},
      {"series": "Field mill", "hour": 9.405, "pg": 214},
      {"series": "Field mill", "hour": 9.426, "pg": 204},
      {"series": "Field mill", "hour": 9.446, "pg": 271},
      {"series": "Field mill", "hour": 9.467, "pg": 307},
      {"series": "Field mill", "hour": 9.484, "pg": 332},
      {"series": "Field mill", "hour": 9.501, "pg": 293},
      {"series": "Field mill", "hour": 9.522, "pg": 250},
      {"series": "Field mill", "hour": 9.543, "pg": 193},
      {"series": "Field mill", "hour": 9.563, "pg": 164},
      {"series": "Field mill", "hour": 9.584, "pg": 214},
      {"series": "Field mill", "hour": 9.605, "pg": 171},
      {"series": "Field mill", "hour": 9.625, "pg": 207},
      {"series": "Field mill", "hour": 9.646, "pg": 229},
      {"series": "Field mill", "hour": 9.667, "pg": 264},
      {"series": "Field mill", "hour": 9.687, "pg": 221},
      {"series": "Field mill", "hour": 9.708, "pg": 200},
      {"series": "Field mill", "hour": 9.729, "pg": 179},
      {"series": "Field mill", "hour": 9.749, "pg": 207},
      {"series": "Field mill", "hour": 9.770, "pg": 229},
      {"series": "Field mill", "hour": 9.790, "pg": 279},
      {"series": "Field mill", "hour": 9.811, "pg": 221},
      {"series": "Field mill", "hour": 9.832, "pg": 257},
      {"series": "Field mill", "hour": 9.852, "pg": 229},
      {"series": "Field mill", "hour": 9.873, "pg": 264},
      {"series": "Field mill", "hour": 9.894, "pg": 207},
      {"series": "Field mill", "hour": 9.914, "pg": 250},
      {"series": "Field mill", "hour": 9.942, "pg": 257},
      {"series": "Field mill", "hour": 9.966, "pg": 275},
      {"series": "Field mill", "hour": 9.983, "pg": 239},
      {"series": "Field mill", "hour": 10.000, "pg": 200},
      {"series": "Field mill", "hour": 10.017, "pg": 193},
      {"series": "Field mill", "hour": 10.034, "pg": 207},
      {"series": "Field mill", "hour": 10.059, "pg": 171},
      {"series": "Field mill", "hour": 10.079, "pg": 196},
      {"series": "Field mill", "hour": 10.103, "pg": 221},
      {"series": "Field mill", "hour": 10.121, "pg": 193},
      {"series": "Field mill", "hour": 10.148, "pg": 171},
      {"series": "Field mill", "hour": 10.172, "pg": 221},
      {"series": "Field mill", "hour": 10.196, "pg": 193},
      {"series": "Field mill", "hour": 10.224, "pg": 179},
      {"series": "Field mill", "hour": 10.251, "pg": 193},
      {"series": "Field mill", "hour": 10.275, "pg": 232},
      {"series": "Field mill", "hour": 10.300, "pg": 179},
      {"series": "Field mill", "hour": 10.320, "pg": 200},
      {"series": "Field mill", "hour": 10.344, "pg": 204},
      {"series": "Field mill", "hour": 10.368, "pg": 164},
      {"series": "Field mill", "hour": 10.389, "pg": 196},
      {"series": "Field mill", "hour": 10.413, "pg": 164},
      {"series": "Field mill", "hour": 10.437, "pg": 196},
      {"series": "Field mill", "hour": 10.458, "pg": 229},
      {"series": "Field mill", "hour": 10.482, "pg": 193},
      {"series": "Field mill", "hour": 10.506, "pg": 164},
      {"series": "Field mill", "hour": 10.534, "pg": 189},
      {"series": "Field mill", "hour": 10.561, "pg": 179},
      {"series": "Field mill", "hour": 10.585, "pg": 196},
      {"series": "Field mill", "hour": 10.609, "pg": 171},
      {"series": "Field mill", "hour": 10.637, "pg": 207},
      {"series": "Field mill", "hour": 10.664, "pg": 179},
      {"series": "Field mill", "hour": 10.689, "pg": 168},
      {"series": "Field mill", "hour": 10.713, "pg": 204},
      {"series": "Field mill", "hour": 10.733, "pg": 168},
      {"series": "Field mill", "hour": 10.757, "pg": 246},
      {"series": "Field mill", "hour": 10.775, "pg": 261},
      {"series": "Field mill", "hour": 10.792, "pg": 221},
      {"series": "Field mill", "hour": 10.816, "pg": 204},
      {"series": "Field mill", "hour": 10.837, "pg": 218},
      {"series": "Field mill", "hour": 10.861, "pg": 207},
      {"series": "Field mill", "hour": 10.885, "pg": 232},
      {"series": "Field mill", "hour": 10.905, "pg": 246},
      {"series": "Field mill", "hour": 10.930, "pg": 218},
      {"series": "Field mill", "hour": 10.947, "pg": 239},
      {"series": "Field mill", "hour": 10.964, "pg": 186},
      {"series": "Field mill", "hour": 10.981, "pg": 150},
      {"series": "Field mill", "hour": 10.998, "pg": 143},
      {"series": "Field mill", "hour": 11.016, "pg": 164},
      {"series": "Field mill", "hour": 11.043, "pg": 150},
      {"series": "Field mill", "hour": 11.067, "pg": 196},
      {"series": "Field mill", "hour": 11.084, "pg": 171},
      {"series": "Field mill", "hour": 11.112, "pg": 193},
      {"series": "Field mill", "hour": 11.136, "pg": 164},
      {"series": "Field mill", "hour": 11.160, "pg": 182},
      {"series": "Field mill", "hour": 11.188, "pg": 200},
      {"series": "Field mill", "hour": 11.215, "pg": 157},
      {"series": "Field mill", "hour": 11.239, "pg": 186},
      {"series": "Field mill", "hour": 11.263, "pg": 218},
      {"series": "Field mill", "hour": 11.291, "pg": 193},
      {"series": "Field mill", "hour": 11.318, "pg": 171},
      {"series": "Field mill", "hour": 11.343, "pg": 211},
      {"series": "Field mill", "hour": 11.367, "pg": 225},
      {"series": "Field mill", "hour": 11.387, "pg": 236},
      {"series": "Field mill", "hour": 11.401, "pg": 239},
      {"series": "Field mill", "hour": 11.418, "pg": 264},
      {"series": "Field mill", "hour": 11.435, "pg": 229},
      {"series": "Field mill", "hour": 11.456, "pg": 193},
      {"series": "Field mill", "hour": 11.480, "pg": 179},
      {"series": "Field mill", "hour": 11.504, "pg": 207},
      {"series": "Field mill", "hour": 11.532, "pg": 164},
      {"series": "Field mill", "hour": 11.559, "pg": 193},
      {"series": "Field mill", "hour": 11.584, "pg": 171},
      {"series": "Field mill", "hour": 11.608, "pg": 225},
      {"series": "Field mill", "hour": 11.635, "pg": 164},
      {"series": "Field mill", "hour": 11.663, "pg": 179},
      {"series": "Field mill", "hour": 11.687, "pg": 157},
      {"series": "Field mill", "hour": 11.711, "pg": 179},
      {"series": "Field mill", "hour": 11.738, "pg": 207},
      {"series": "Field mill", "hour": 11.766, "pg": 207},
      {"series": "Field mill", "hour": 11.780, "pg": 175},
      {"series": "Field mill", "hour": 11.800, "pg": 250},
      {"series": "Field mill", "hour": 11.825, "pg": 179},
      {"series": "Field mill", "hour": 11.849, "pg": 168},
      {"series": "Field mill", "hour": 11.876, "pg": 164},
      {"series": "Field mill", "hour": 11.904, "pg": 182},
      {"series": "Field mill", "hour": 11.928, "pg": 150},
      {"series": "Field mill", "hour": 11.952, "pg": 164},
      {"series": "Field mill", "hour": 11.979, "pg": 161},
      {"series": "Field mill", "hour": 12.000, "pg": 157},

      {"series": "300 Vm⁻¹", "hour": 0, "pg": 300},
      {"series": "300 Vm⁻¹", "hour": 12, "pg": 300},
      {"series": "0 Vm⁻¹", "hour": 0, "pg": 0},
      {"series": "0 Vm⁻¹", "hour": 12, "pg": 0}
    ]
  },
  "mark": {"type": "line", "clip": true, "interpolate": "linear"},
  "encoding": {
    "x": {
      "field": "hour",
      "type": "quantitative",
      "scale": {"domain": [0, 12], "nice": false, "zero": false},
      "axis": {
        "values": [1, 2, 3, 4, 5, 6, 7, 8, 9, 10, 11],
        "labelExpr": "datum.value < 10 ? '0' + datum.value : '' + datum.value",
        "labelPadding": 6,
        "title": "Hours (UT)",
        "titleY": 67,
        "titleBaseline": "alphabetic"
      }
    },
    "y": {
      "field": "pg",
      "type": "quantitative",
      "scale": {"domain": [-100, 500], "nice": false, "zero": false},
      "axis": {
        "values": [-100, 0, 100, 200, 300, 400, 500],
        "labelPadding": 7,
        "title": "PG (Vm⁻¹)",
        "titleX": -108,
        "titleY": 280,
        "titleAlign": "center",
        "titleBaseline": "middle",
        "titleAngle": -90
      }
    },
    "color": {
      "field": "series",
      "type": "nominal",
      "scale": {
        "domain": ["The 1962 instrument", "The 1998 instrument", "Field mill", "300 Vm⁻¹", "0 Vm⁻¹"],
        "range": ["#ff0000", "#008000", "#0000ff", "#bfbf00", "#bfbf00"]
      },
      "legend": {
        "orient": "none",
        "legendX": 145,
        "legendY": 672,
        "columns": 3,
        "title": null
      }
    },
    "strokeDash": {
      "field": "series",
      "type": "nominal",
      "scale": {
        "domain": ["The 1962 instrument", "The 1998 instrument", "Field mill", "300 Vm⁻¹", "0 Vm⁻¹"],
        "range": [[1, 0], [1, 0], [1, 0], [8, 8.7], [8, 8.7]]
      },
      "legend": {
        "orient": "none",
        "legendX": 145,
        "legendY": 672,
        "columns": 3,
        "title": null
      }
    },
    "strokeWidth": {
      "condition": [
        {"test": "datum.series === 'The 1998 instrument'", "value": 5},
        {"test": "indexof(datum.series, 'Vm') >= 0", "value": 4.5}
      ],
      "value": 1.6
    }
  },
  "config": {
    "font": "DejaVu Sans",
    "view": {"stroke": "black", "strokeWidth": 1},
    "axis": {
      "domain": false,
      "ticks": false,
      "grid": true,
      "gridColor": "black",
      "gridDash": [1.5, 3],
      "gridWidth": 1,
      "gridOpacity": 0.9,
      "labelFont": "DejaVu Sans",
      "labelFontSize": 26,
      "labelFontWeight": "bold",
      "labelColor": "black",
      "titleFont": "DejaVu Sans",
      "titleFontSize": 33,
      "titleFontWeight": "bold",
      "titleColor": "black"
    },
    "legend": {
      "symbolType": "stroke",
      "symbolSize": 1936,
      "symbolStrokeWidth": 7,
      "labelFont": "DejaVu Sans",
      "labelFontSize": 26,
      "labelFontWeight": "bold",
      "labelColor": "black",
      "labelLimit": 500,
      "labelOffset": 22,
      "columnPadding": 46,
      "rowPadding": 0,
      "padding": 5,
      "strokeColor": "black",
      "strokeWidth": 1.2,
      "fillColor": "white"
    }
  }
}
